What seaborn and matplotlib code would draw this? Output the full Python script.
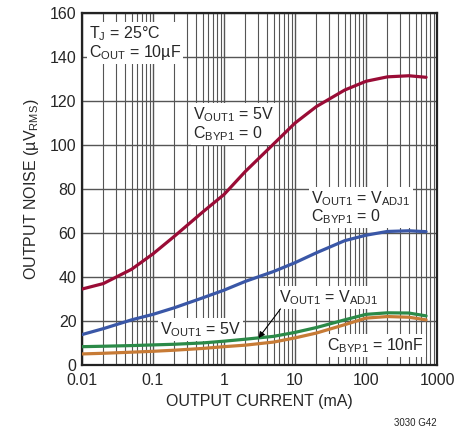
import matplotlib
matplotlib.use("Agg")
import matplotlib.pyplot as plt
import matplotlib.ticker as mticker
import seaborn as sns
import pandas as pd

# output current (mA) and noise (uVrms)
current_ma = [0.01, 0.02, 0.05, 0.1, 0.2, 0.5, 1, 2, 5, 10, 20, 50, 100, 200, 400, 700]
noise_5v_cbyp0 = [34.5, 37, 43.5, 50.5, 58.5, 69.5, 77.5, 88, 100.5, 110, 117.5, 125, 129, 131, 131.5, 130.8]
noise_adj_cbyp0 = [13.8, 16.5, 20.5, 23, 26, 30.5, 34, 38, 42.5, 46.5, 51, 56.5, 59, 60.7, 61, 60.6]
noise_5v_10nf = [8.3, 8.5, 8.8, 9.1, 9.4, 10.0, 10.8, 11.7, 13.0, 14.8, 17.0, 20.5, 23.0, 23.7, 23.6, 22.3]
noise_adj_10nf = [5.0, 5.3, 5.8, 6.2, 6.7, 7.5, 8.3, 9.0, 10.4, 12.3, 14.5, 18.3, 21.3, 22.0, 21.7, 20.5]

series_names = ["5V, CBYP=0", "ADJ, CBYP=0", "5V, 10nF", "ADJ, 10nF"]
series_colors = ["#9a0c36", "#3a57a7", "#2b8a48", "#c77b36"]

df = pd.concat([
    pd.DataFrame({"current": current_ma, "noise": vals, "series": name})
    for name, vals in zip(series_names, [noise_5v_cbyp0, noise_adj_cbyp0, noise_5v_10nf, noise_adj_10nf])
])

sns.set_style("white")
font = ["Liberation Sans", "DejaVu Sans"]
plt.rcParams["font.family"] = font
plt.rcParams["mathtext.default"] = "regular"

fig = plt.figure(figsize=(4.71, 4.36), dpi=100)
ax = fig.add_axes([0.174, 0.163, 0.754, 0.807])
ax.set_axisbelow(True)

sns.lineplot(data=df, x="current", y="noise", hue="series", palette=series_colors,
             hue_order=series_names, linewidth=2.3, legend=False, ax=ax, zorder=4)

ax.set_xscale("log")
ax.set_xlim(0.01, 1000)
ax.set_ylim(0, 160)
ax.yaxis.set_major_locator(mticker.MultipleLocator(20))
ax.xaxis.set_major_locator(mticker.LogLocator(base=10, numticks=10))
ax.xaxis.set_minor_locator(mticker.LogLocator(base=10, subs=range(2, 10), numticks=20))
ax.xaxis.set_major_formatter(mticker.FuncFormatter(lambda v, _: f"{v:g}"))
ax.xaxis.set_minor_formatter(mticker.NullFormatter())

ax.grid(which="major", color="#555555", linewidth=1.0)
ax.grid(which="minor", axis="x", color="#555555", linewidth=0.8)
ax.tick_params(axis="both", which="both", length=0, labelsize=11.5)
ax.tick_params(axis="x", pad=6)
ax.tick_params(axis="y", pad=4)
for s in ax.spines.values():
    s.set_color("#222222")
    s.set_linewidth(1.6)

ax.set_xlabel("OUTPUT CURRENT (mA)", fontsize=11.5, labelpad=4)
ax.set_ylabel("OUTPUT NOISE (µV$_{RMS}$)", fontsize=11.5, labelpad=6)

box = dict(facecolor="white", edgecolor="none", pad=1.5)
tkw = dict(fontsize=11.5, bbox=box, zorder=3, linespacing=1.0)
ax.text(0.0125, 155, "T$_J$ = 25°C\nC$_{OUT}$ = 10µF", va="top", ha="left", **tkw)
ax.text(0.37, 118, "V$_{OUT1}$ = 5V\nC$_{BYP1}$ = 0", va="top", ha="left", **tkw)
ax.text(17, 80, "V$_{OUT1}$ = V$_{ADJ1}$\nC$_{BYP1}$ = 0", va="top", ha="left", **tkw)
ax.text(6.0, 35, "V$_{OUT1}$ = V$_{ADJ1}$", va="top", ha="left", **tkw)
ax.text(0.125, 20.5, "V$_{OUT1}$ = 5V", va="top", ha="left", **tkw)
ax.text(28, 13, "C$_{BYP1}$ = 10nF", va="top", ha="left", **tkw)
ax.annotate("", xy=(2.9, 11.2), xytext=(6.6, 26.5),
            arrowprops=dict(arrowstyle="-|>", color="black", lw=0.8, mutation_scale=9), zorder=6)

fig.text(0.928, 0.022, "3030 G42", fontsize=7, ha="right", family=font)

fig.savefig("out.png", dpi=100)
